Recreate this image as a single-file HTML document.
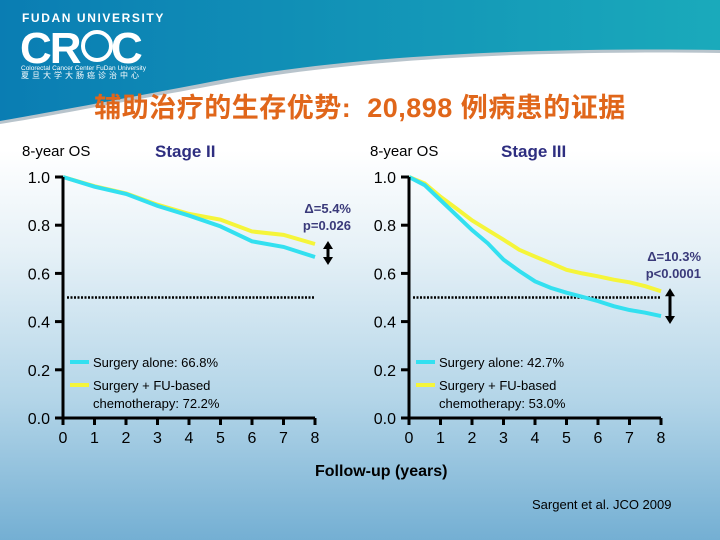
<!DOCTYPE html>
<html><head><meta charset="utf-8"><style>
body{margin:0;width:720px;height:540px;overflow:hidden;font-family:"Liberation Sans","Noto Sans CJK SC",sans-serif;}
#bg{position:absolute;left:0;top:0;width:720px;height:540px;background:linear-gradient(#ffffff 0px,#ffffff 150px,#e6f1f7 250px,#b3d5e8 400px,#74afd3 540px);}
</style></head><body>
<div id="bg"></div>
<svg id="svg" width="720" height="540" style="position:absolute;left:0;top:0">
<defs><linearGradient id="hb" x1="0" x2="1"><stop offset="0" stop-color="#0a7db3"/><stop offset="1" stop-color="#1aaabb"/></linearGradient></defs>
<path d="M0,0 H720 V53 C500,50 330,62 200,88 C100,106 40,118 0,124 Z" fill="#b8c4cc"/>
<path d="M0,0 H720 V50 C500,47 330,58 200,84 C100,103 40,114 0,121 Z" fill="url(#hb)"/>
<g fill="#fff">
<text x="22" y="22" font-size="12" letter-spacing="1.6" font-weight="bold">FUDAN UNIVERSITY</text>
<text x="20" y="63" font-size="44" font-weight="bold" letter-spacing="-2">CR</text>
<circle cx="97" cy="46" r="14" fill="none" stroke="#fff" stroke-width="4"/>
<text x="111" y="63" font-size="44" font-weight="bold">C</text>
<text x="21" y="70" font-size="6.5">Colorectal Cancer Center  FuDan University</text>
<text x="21" y="78" font-size="8" letter-spacing="3">夏旦大学大肠癌诊治中心</text>
</g>
<text x="360" y="117" text-anchor="middle" font-size="27" font-weight="bold" fill="#e0661a" letter-spacing="0.5" xml:space="preserve">辅助治疗的生存优势:  20,898 例病患的证据</text>
<text x="22" y="156" font-size="15">8-year OS</text>
<text x="155" y="157" font-size="17" font-weight="bold" fill="#2e2e80">Stage II</text>
<text x="370" y="156" font-size="15">8-year OS</text>
<text x="501" y="157" font-size="17" font-weight="bold" fill="#2e2e80">Stage III</text>
<text x="315" y="476" font-size="16" font-weight="bold">Follow-up (years)</text>
<text x="532" y="509" font-size="13">Sargent et al. JCO 2009</text>
</svg>
<script>
const yTicks=[0,0.2,0.4,0.6,0.8,1.0];
const xTicks=[0,1,2,3,4,5,6,7,8];
const s2Years=[0,1,2,3,4,5,6,7,8];
const s2Surgery=[1.0,0.96,0.93,0.88,0.84,0.795,0.733,0.71,0.668];
const s2Chemo=[1.0,0.962,0.932,0.885,0.847,0.823,0.774,0.76,0.722];
const s3Years=[0,0.5,1,1.5,2,2.5,3,3.5,4,4.5,5,5.5,6,6.5,7,7.5,8];
const s3Surgery=[1.0,0.966,0.904,0.842,0.78,0.725,0.657,0.61,0.567,0.54,0.52,0.503,0.485,0.464,0.448,0.437,0.423];
const s3Chemo=[1.0,0.973,0.918,0.87,0.82,0.78,0.74,0.698,0.67,0.643,0.615,0.6,0.588,0.574,0.563,0.547,0.526];
const refLine=0.5;
const NS='http://www.w3.org/2000/svg';
const svg=document.getElementById('svg');
function mk(tag,attrs,parent){const e=document.createElementNS(NS,tag);for(const k in attrs)e.setAttribute(k,attrs[k]);(parent||svg).appendChild(e);return e;}
function chart(id,x0,years,surg,chemo,legS,legC,dTxt,pTxt,annX,arrowX){
  const X=v=>x0+v*31.5, Y=v=>418-v*241;
  const g=mk('g',{});
  
  
  const dl=mk('line',{x1:X(0)+4,x2:X(8),y1:Y(refLine),y2:Y(refLine),stroke:'#000','stroke-width':2.5,'stroke-dasharray':'2,1.5'},g);
  
  
  const pts=(arr)=>years.map((t,i)=>X(t)+','+Y(arr[i])).join(' ');
  const ly=mk('polyline',{points:pts(chemo),fill:'none',stroke:'#f5f53a','stroke-width':4},g);
  
  
  const lc=mk('polyline',{points:pts(surg),fill:'none',stroke:'#33e0f0','stroke-width':4},g);
  
  
  const ax=mk('path',{d:`M${X(0)},${Y(1)} V${Y(0)} H${X(8)}`,fill:'none',stroke:'#000','stroke-width':3},g);
  
  
  yTicks.forEach(v=>{
    mk('line',{x1:X(0)-8,x2:X(0),y1:Y(v),y2:Y(v),stroke:'#000','stroke-width':3},g);
    const t=mk('text',{x:X(0)-13,y:Y(v)+6,'text-anchor':'end','font-size':16},g);
    
    
    t.textContent=v.toFixed(1);
  });
  xTicks.forEach(v=>{
    mk('line',{x1:X(v),x2:X(v),y1:Y(0),y2:Y(0)+7,stroke:'#000','stroke-width':3},g);
    const t=mk('text',{x:X(v),y:Y(0)+25,'text-anchor':'middle','font-size':16},g);
    
    
    t.textContent=v;
  });
  const l1=mk('line',{x1:X(0)+7,x2:X(0)+26,y1:362,y2:362,stroke:'#33e0f0','stroke-width':4},g);
  
  
  const l2=mk('line',{x1:X(0)+7,x2:X(0)+26,y1:385,y2:385,stroke:'#f5f53a','stroke-width':4},g);
  
  
  [[legS,367],[legC[0],390],[legC[1],408]].forEach(([s,y])=>{
    const t=mk('text',{x:X(0)+30,y:y,'font-size':13},g);
    
    
    t.textContent=s;
  });
  [[dTxt,0],[pTxt,17]].forEach(([s,dy])=>{
    const t=mk('text',{x:annX,y:annY+dy,'text-anchor':'end','font-size':13,'font-weight':'bold',fill:'#3a3a7a'},g);
    
    
    t.textContent=s;
  });
  const ya=Y(chemo[chemo.length-1])-3, yb=Y(surg[surg.length-1])+8;
  const ar=mk('path',{d:`M${arrowX},${ya} l-5,8 h3.5 v${yb-ya-16} h-3.5 l5,8 l5,-8 h-3.5 v-${yb-ya-16} h3.5 z`,fill:'#000'},g);
  
  
}
let annY=213;
chart('stage-ii',63,s2Years,s2Surgery,s2Chemo,'Surgery alone: 66.8%',['Surgery + FU-based','chemotherapy: 72.2%'],'Δ=5.4%','p=0.026',351,328);
annY=261;
chart('stage-iii',409,s3Years,s3Surgery,s3Chemo,'Surgery alone: 42.7%',['Surgery + FU-based','chemotherapy: 53.0%'],'Δ=10.3%','p<0.0001',701,670);
</script>
</body></html>
